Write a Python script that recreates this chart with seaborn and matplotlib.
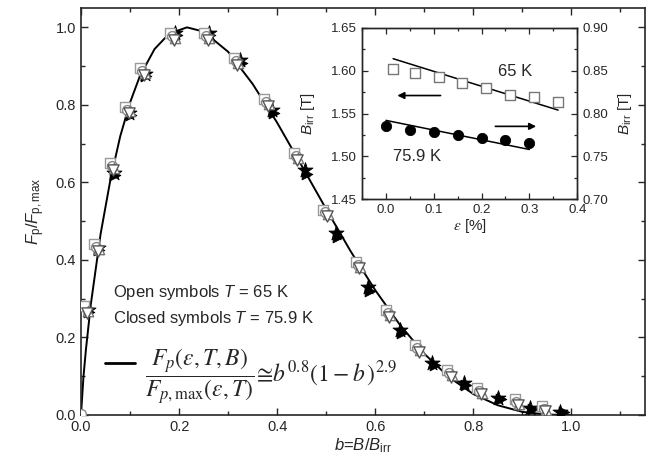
import matplotlib
matplotlib.use('Agg')
import matplotlib.pyplot as plt
import seaborn as sns
from matplotlib.ticker import MultipleLocator

# ---- fit curve, Fp/Fp,max = b^0.8 (1-b)^2.9 (normalised) ----
b_fit = [0.0, 0.005, 0.01, 0.02, 0.04, 0.06, 0.08, 0.10, 0.12, 0.15, 0.18, 0.2162,
         0.25, 0.30, 0.35, 0.40, 0.45, 0.50, 0.55, 0.60, 0.65, 0.70, 0.75, 0.80,
         0.85, 0.90, 0.95, 1.0]
F_fit = [0.0, 0.098, 0.168, 0.285, 0.467, 0.607, 0.719, 0.806, 0.874, 0.944, 0.984, 1.0,
         0.989, 0.937, 0.854, 0.754, 0.643, 0.531, 0.422, 0.322, 0.233, 0.158, 0.098, 0.054,
         0.025, 0.008, 0.001, 0.0]

# ---- open symbols, T = 65 K ----
sq_b = [0.006, 0.027, 0.059, 0.090, 0.121, 0.182, 0.251, 0.312, 0.374, 0.434, 0.494, 0.560, 0.621, 0.682, 0.747, 0.808, 0.884, 0.940]
sq_F = [0.280, 0.440, 0.650, 0.795, 0.895, 0.985, 0.985, 0.920, 0.815, 0.675, 0.530, 0.395, 0.270, 0.180, 0.115, 0.070, 0.040, 0.022]
ci_b = [0.000, 0.031, 0.063, 0.094, 0.125, 0.186, 0.255, 0.316, 0.378, 0.438, 0.498, 0.564, 0.625, 0.686, 0.751, 0.812, 0.888, 0.944]
ci_F = [0.003, 0.433, 0.643, 0.788, 0.888, 0.978, 0.978, 0.913, 0.808, 0.668, 0.523, 0.388, 0.263, 0.173, 0.108, 0.063, 0.033, 0.016]
tu_b = [0.015, 0.036, 0.068, 0.099, 0.130, 0.191, 0.260, 0.321, 0.383, 0.443, 0.503, 0.569, 0.630, 0.691, 0.756, 0.817, 0.893, 0.949]
tu_F = [0.268, 0.428, 0.638, 0.783, 0.883, 0.973, 0.973, 0.908, 0.803, 0.663, 0.518, 0.383, 0.258, 0.168, 0.103, 0.058, 0.028, 0.012]
td_b = [0.013, 0.034, 0.066, 0.097, 0.128, 0.189, 0.258, 0.319, 0.381, 0.441, 0.501, 0.567, 0.628, 0.689, 0.754, 0.815, 0.891, 0.947]
td_F = [0.263, 0.423, 0.633, 0.778, 0.878, 0.968, 0.968, 0.903, 0.798, 0.658, 0.513, 0.378, 0.253, 0.163, 0.098, 0.053, 0.025, 0.010]

# ---- closed symbols, T = 75.9 K ----
cs_b = [0.014, 0.035, 0.067, 0.098, 0.130, 0.192, 0.260, 0.325, 0.390, 0.457, 0.520, 0.585, 0.650, 0.716, 0.780, 0.850, 0.916, 0.977]
cs_F = [0.270, 0.430, 0.625, 0.780, 0.880, 0.985, 0.985, 0.915, 0.787, 0.632, 0.470, 0.330, 0.220, 0.134, 0.083, 0.045, 0.018, 0.008]
ct_b = [0.016, 0.037, 0.069, 0.101, 0.133, 0.195, 0.263, 0.329, 0.394, 0.461, 0.525, 0.590, 0.655, 0.722, 0.786, 0.856, 0.922, 0.984]
ct_F = [0.266, 0.426, 0.620, 0.775, 0.875, 0.980, 0.980, 0.908, 0.778, 0.622, 0.460, 0.320, 0.212, 0.128, 0.078, 0.041, 0.015, 0.007]

# ---- inset: irreversibility field vs strain ----
eps_65 = [0.015, 0.06, 0.11, 0.16, 0.21, 0.26, 0.31, 0.36]
birr_65 = [1.602, 1.597, 1.593, 1.586, 1.580, 1.572, 1.569, 1.563]
eps_65_fit = [0.015, 0.36]
birr_65_fit = [1.614, 1.554]
eps_76 = [0.0, 0.05, 0.10, 0.15, 0.20, 0.25, 0.30]
birr_76 = [0.785, 0.781, 0.778, 0.775, 0.771, 0.769, 0.765]
eps_76_fit = [0.0, 0.30]
birr_76_fit = [0.792, 0.758]

sns.set_style('ticks')
plt.rcParams['font.family'] = ['Liberation Sans', 'DejaVu Sans']
plt.rcParams['mathtext.fontset'] = 'custom'
plt.rcParams['mathtext.rm'] = 'Liberation Sans'
plt.rcParams['mathtext.it'] = 'Liberation Sans:italic'
plt.rcParams['mathtext.bf'] = 'Liberation Sans:bold'

fig = plt.figure(figsize=(6.5, 4.72), dpi=100)
ax = fig.add_axes([0.1246, 0.1208, 0.8677, 0.8623])

sns.lineplot(x=b_fit, y=F_fit, ax=ax, color='black', lw=1.4, zorder=2)

# closed first, open symbols sit on top
sns.scatterplot(x=cs_b, y=cs_F, ax=ax, marker='*', s=130, color='black', edgecolor='black', linewidth=0.6, zorder=3)
sns.scatterplot(x=ct_b, y=ct_F, ax=ax, marker='>', s=60, color='black', edgecolor='black', linewidth=0.6, zorder=3)
sns.scatterplot(x=sq_b, y=sq_F, ax=ax, marker='s', s=50, facecolor='white', edgecolor='#999999', linewidth=1.0, zorder=4)
sns.scatterplot(x=ci_b, y=ci_F, ax=ax, marker='o', s=50, facecolor='white', edgecolor='#888888', linewidth=1.0, zorder=4)
sns.scatterplot(x=tu_b, y=tu_F, ax=ax, marker='^', s=55, facecolor='white', edgecolor='#777777', linewidth=1.0, zorder=4)
sns.scatterplot(x=td_b, y=td_F, ax=ax, marker='v', s=65, facecolor='white', edgecolor='#555555', linewidth=1.0, zorder=5)

ax.set_xlim(0, 1.15)
ax.set_ylim(0, 1.05)
ax.xaxis.set_major_locator(MultipleLocator(0.2))
ax.xaxis.set_minor_locator(MultipleLocator(0.1))
ax.yaxis.set_major_locator(MultipleLocator(0.2))
ax.yaxis.set_minor_locator(MultipleLocator(0.1))
ax.xaxis.set_major_formatter(plt.FormatStrFormatter('%.1f'))
ax.yaxis.set_major_formatter(plt.FormatStrFormatter('%.1f'))
ax.tick_params(which='both', direction='in', top=True, right=True, labelsize=10.5, width=1.0)
ax.tick_params(which='major', length=5)
ax.tick_params(which='minor', length=3)
for sp in ax.spines.values():
    sp.set_linewidth(1.2)
    sp.set_visible(True)
ax.set_xlabel(r'$b$=$B$/$B_{\mathrm{irr}}$', fontsize=12, labelpad=2)
ax.set_ylabel(r'$F_{\mathrm{p}}$/$F_{\mathrm{p,max}}$', fontsize=12, labelpad=6)

# legend written as text, like the original
ax.text(0.065, 0.315, r'Open symbols $T$ = 65 K', fontsize=12, va='center')
ax.text(0.065, 0.25, r'Closed symbols $T$ = 75.9 K', fontsize=12, va='center')
ax.plot([0.049, 0.110], [0.134, 0.134], color='black', lw=2)
ax.text(0.13, 0.10,
        r'$\dfrac{F_p\left(\varepsilon,T,B\right)}{F_{p,\mathrm{max}}\left(\varepsilon,T\right)}'
        r'\!\cong\! b^{0.8}\left(1-b\,\right)^{2.9}$',
        fontsize=17, va='center', math_fontfamily='stix')

# ---- inset ----
ins = fig.add_axes([0.557, 0.578, 0.331, 0.363])
ins.set_facecolor('white')
sns.lineplot(x=eps_65_fit, y=birr_65_fit, ax=ins, color='black', lw=1.1)
sns.scatterplot(x=eps_65, y=birr_65, ax=ins, marker='s', s=45, facecolor='white', edgecolor='#777777', linewidth=1.0, zorder=3)
ins.set_xlim(-0.05, 0.4)
ins.set_ylim(1.45, 1.65)
ins.xaxis.set_major_locator(MultipleLocator(0.1))
ins.xaxis.set_minor_locator(MultipleLocator(0.05))
ins.yaxis.set_major_locator(MultipleLocator(0.05))
ins.yaxis.set_minor_locator(MultipleLocator(0.025))
ins.xaxis.set_major_formatter(plt.FormatStrFormatter('%.1f'))
ins.yaxis.set_major_formatter(plt.FormatStrFormatter('%.2f'))
ins.tick_params(which='both', direction='in', top=True, labelsize=9.5, width=0.9)
ins.tick_params(which='major', length=4)
ins.tick_params(which='minor', length=2)
ins.set_xlabel(r'$\varepsilon$ [%]', fontsize=11, labelpad=1, math_fontfamily='stix')
ins.set_ylabel(r'$B_{\mathrm{irr}}$ [T]', fontsize=11, labelpad=10)

ins2 = ins.twinx()
sns.lineplot(x=eps_76_fit, y=birr_76_fit, ax=ins2, color='black', lw=1.1)
sns.scatterplot(x=eps_76, y=birr_76, ax=ins2, marker='o', s=55, color='black', edgecolor='black', zorder=3)
ins2.set_ylim(0.70, 0.90)
ins2.yaxis.set_major_locator(MultipleLocator(0.05))
ins2.yaxis.set_minor_locator(MultipleLocator(0.025))
ins2.yaxis.set_major_formatter(plt.FormatStrFormatter('%.2f'))
ins2.tick_params(which='both', direction='in', labelsize=9.5, width=0.9)
ins2.tick_params(which='major', length=4)
ins2.tick_params(which='minor', length=2)
ins2.set_ylabel(r'$B_{\mathrm{irr}}$ [T]', fontsize=11, labelpad=6)
for a in (ins, ins2):
    for sp in a.spines.values():
        sp.set_linewidth(1.0)
        sp.set_visible(True)

ins.annotate('', xy=(0.018, 1.571), xytext=(0.12, 1.571),
             arrowprops=dict(arrowstyle='-|>', color='black', lw=1.2, mutation_scale=10))
ins.annotate('', xy=(0.32, 1.535), xytext=(0.223, 1.535),
             arrowprops=dict(arrowstyle='-|>', color='black', lw=1.2, mutation_scale=10))
ins.text(0.27, 1.599, '65 K', fontsize=12, ha='center', va='center')
ins.text(0.066, 1.500, '75.9 K', fontsize=12, ha='center', va='center')

fig.savefig('out.png', dpi=100)
